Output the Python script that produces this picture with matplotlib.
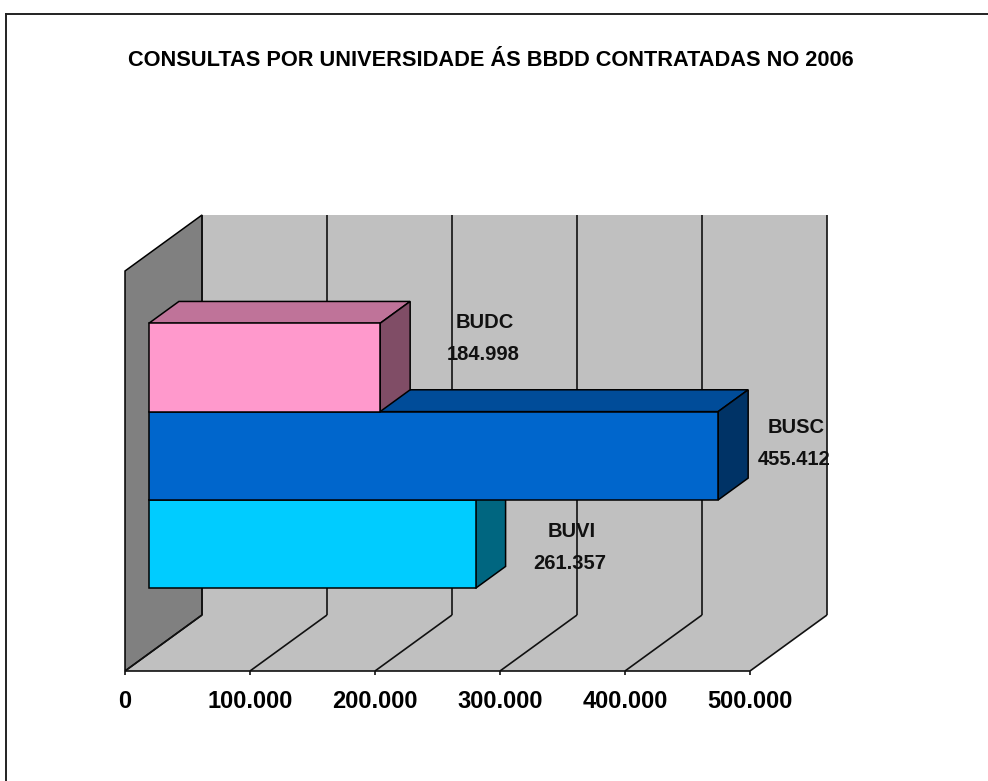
import matplotlib
matplotlib.use("Agg")
import matplotlib.pyplot as plt
from matplotlib.patches import Polygon

# data, bottom bar first
categories = ["BUVI", "BUSC", "BUDC"]
values = [261357, 455412, 184998]
value_labels = ["261.357", "455.412", "184.998"]
ticks = [0, 100000, 200000, 300000, 400000, 500000]
tick_labels = ["0", "100.000", "200.000", "300.000", "400.000", "500.000"]
title = "CONSULTAS POR UNIVERSIDADE ÁS BBDD CONTRATADAS NO 2006"

# colours: front, top, side
front_colors = ["#00CCFF", "#0066CC", "#FF99CC"]
top_colors = ["#0099BF", "#004C99", "#BF7399"]
side_colors = ["#006680", "#003366", "#804D66"]

W, H = 988, 781
PX_X = 625 / 500000      # pixels per value
PX_Y = 88.33             # pixels per bar height
X0, Y0 = 125, 671        # pixel of the front corner of the floor
DX, DY = 77, 56          # pixels of full depth
WALL = 400 / PX_Y        # wall height
plt.rcParams["font.family"] = ["Liberation Sans", "DejaVu Sans"]

fig = plt.figure(figsize=(W / 100, H / 100), dpi=100)
ax = fig.add_axes([0, 0, 1, 1])
ax.set_xlim(-X0 / PX_X, (W - X0) / PX_X)
ax.set_ylim(-(H - Y0) / PX_Y, Y0 / PX_Y)
ax.axis("off")


def pt(v, level, d=0.0):
    # oblique projection: d goes from 0 (front) to 1 (back wall)
    return (v + d * DX / PX_X, level + d * DY / PX_Y)


def face(points, color, z=1, lw=1.1):
    ax.add_patch(Polygon(points, closed=True, facecolor=color, edgecolor="black" if lw else "none",
                         linewidth=lw, zorder=z))


def line(a, b, lw=1.2, z=2):
    ax.plot([a[0], b[0]], [a[1], b[1]], color="#111111", lw=lw, zorder=z, solid_capstyle="butt")


vmax = ticks[-1]
# walls and floor
face([pt(0, 0, 1), pt(vmax, 0, 1), pt(vmax, WALL, 1), pt(0, WALL, 1)], "#C0C0C0", lw=0)
face([pt(0, 0), pt(vmax, 0), pt(vmax, 0, 1), pt(0, 0, 1)], "#C0C0C0", lw=0)
face([pt(0, 0), pt(0, 0, 1), pt(0, WALL, 1), pt(0, WALL)], "#808080", z=1.5)

for t, lab in zip(ticks, tick_labels):
    line(pt(t, 0), pt(t, 0, 1))
    line(pt(t, 0, 1), pt(t, WALL, 1))
    line(pt(t, 0), pt(t, -4 / PX_Y))
    ax.text(t, -30 / PX_Y, lab, ha="center", va="center", fontsize=17, fontweight="bold", color="black")
line(pt(0, 0), pt(vmax, 0))

# bars
d1, d2 = 0.31, 0.70
levels = [0.74, 1.74, 2.74]
label_off = [(66, 74), (48, 59), (75, 42)]
for i, cat in enumerate(categories):
    v, y = values[i], levels[i]
    left = pt(0, y, d1)[0]
    bottom = pt(0, y, d1)[1]
    face([pt(0, y + 1, d1), pt(v, y + 1, d1), pt(v, y + 1, d2), pt(0, y + 1, d2)], top_colors[i], z=3 + i)
    face([pt(v, y, d1), pt(v, y, d2), pt(v, y + 1, d2), pt(v, y + 1, d1)], side_colors[i], z=3 + i)
    ax.barh(bottom + 0.5, v, left=left, height=1, color=front_colors[i], edgecolor="black", linewidth=1.1, zorder=3 + i)

    # labels sit to the right of the back corner of the bar
    bx, by = pt(v, y + 1, d2)
    ox, oy = label_off[i]
    ax.annotate(cat, (bx, by), xytext=(ox, -oy + 21), textcoords="offset pixels", ha="center", va="center",
                fontsize=14.5, fontweight="bold", color="#111111", zorder=10)
    ax.annotate(value_labels[i], (bx, by), xytext=(ox - 2, -oy - 11), textcoords="offset pixels", ha="center",
                va="center", fontsize=14.5, fontweight="bold", color="#111111", zorder=10)

fig.text(491 / W, 1 - 61 / H, title, ha="center", va="center", fontsize=15.7, fontweight="bold", color="black")

# chart frame: only the left and top edges are in the crop
fig.add_artist(plt.Line2D([6 / W, 6 / W], [0, 1 - 14 / H], color="#222222", lw=1.4))
fig.add_artist(plt.Line2D([6 / W, 1], [1 - 14 / H, 1 - 14 / H], color="#222222", lw=1.4))

fig.savefig("out.png", dpi=100)
